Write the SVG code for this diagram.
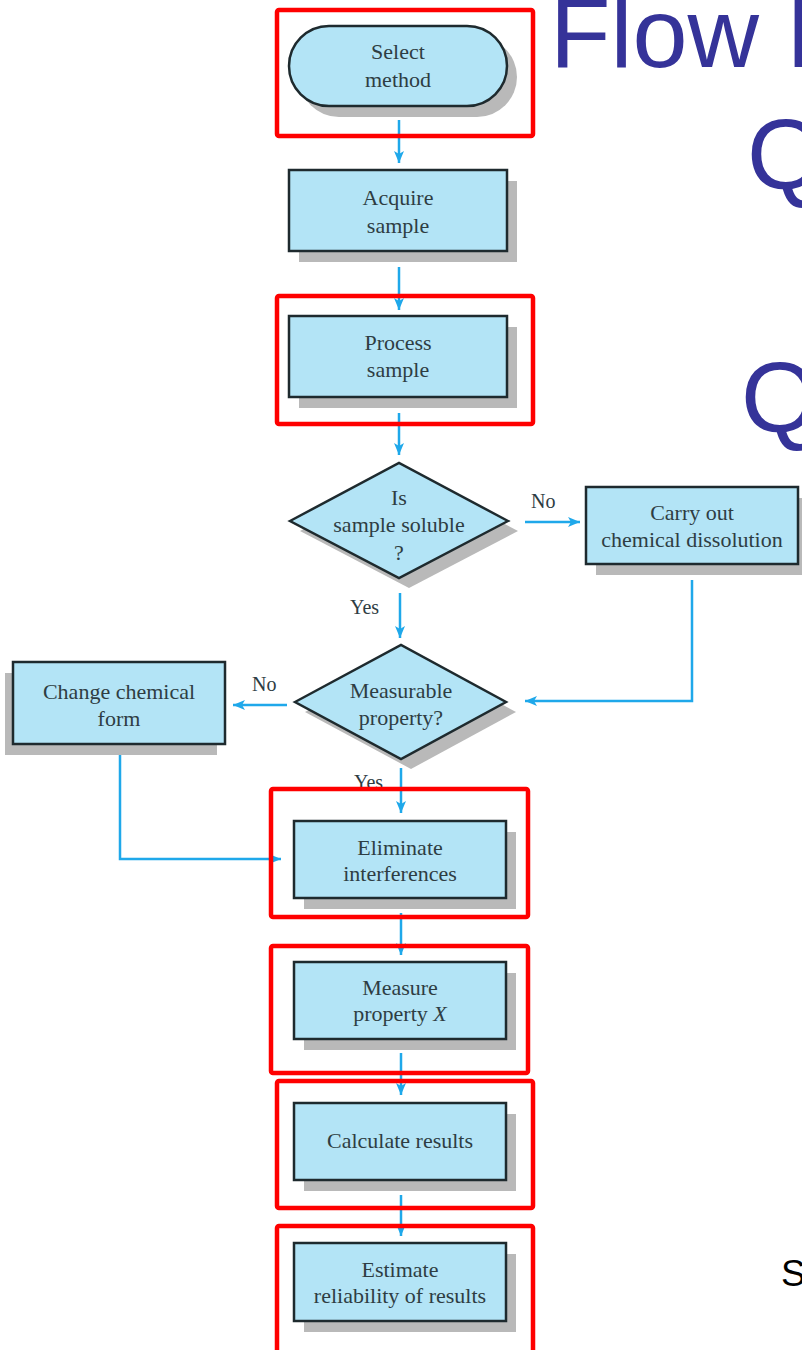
<svg xmlns="http://www.w3.org/2000/svg" width="802" height="1350" viewBox="0 0 802 1350">
<style>
.box{fill:#b3e4f6;stroke:#1e2a2e;stroke-width:2.5}
.shadow{fill:#b9b9b9;stroke:none}
.lbl{font-family:"Liberation Serif","Times New Roman",serif;font-size:22px;fill:#2e3d43;text-anchor:middle}
.yn{font-family:"Liberation Serif","Times New Roman",serif;font-size:20px;fill:#2e3d43}
.conn{fill:none;stroke:#1fa8ea;stroke-width:2.5}
.hl{fill:none;stroke:#ff0000;stroke-width:4.5}
.title{font-family:"Liberation Sans",Arial,sans-serif;fill:#353399}
</style>
<defs>
<marker id="arr" markerUnits="userSpaceOnUse" markerWidth="12" markerHeight="10" refX="12" refY="5" orient="auto">
<path d="M0,0 L12,5 L0,10 L3,5 z" fill="#1fa8ea"/>
</marker>
</defs>
<rect width="802" height="1350" fill="#ffffff"/>

<g id="title">
<text class="title" x="550" y="67" font-size="99">Flow D</text>
<text class="title" x="747" y="189" font-size="100">Q</text>
<text class="title" x="741" y="432" font-size="100">Q</text>
<text x="781" y="1286" font-family="Liberation Sans, Arial, sans-serif" font-size="37" fill="#000000">S</text>
</g>

<g id="connectors">
<line class="conn" x1="399" y1="120" x2="399" y2="163" marker-end="url(#arr)"/>
<line class="conn" x1="399" y1="267" x2="399" y2="310" marker-end="url(#arr)"/>
<line class="conn" x1="399" y1="413" x2="399" y2="455" marker-end="url(#arr)"/>
<line class="conn" x1="400" y1="593" x2="400" y2="638" marker-end="url(#arr)"/>
<line class="conn" x1="525" y1="522" x2="580" y2="522" marker-end="url(#arr)"/>
<polyline class="conn" points="692,580 692,701 525,701" marker-end="url(#arr)"/>
<line class="conn" x1="287" y1="705" x2="233" y2="705" marker-end="url(#arr)"/>
<polyline class="conn" points="120,753 120,859 281,859" marker-end="url(#arr)"/>
<line class="conn" x1="401" y1="768" x2="401" y2="813" marker-end="url(#arr)"/>
<line class="conn" x1="401" y1="913" x2="401" y2="955" marker-end="url(#arr)"/>
<line class="conn" x1="401" y1="1053" x2="401" y2="1095" marker-end="url(#arr)"/>
<line class="conn" x1="401" y1="1195" x2="401" y2="1236" marker-end="url(#arr)"/>
<text class="yn" x="531" y="508">No</text>
<text class="yn" x="350" y="614">Yes</text>
<text class="yn" x="252" y="691">No</text>
<text class="yn" x="354" y="789">Yes</text>
</g>

<g id="select-method">
<rect class="shadow" x="299" y="37" width="218" height="80" rx="40"/>
<rect class="box" x="289" y="26" width="218" height="80" rx="40"/>
<text class="lbl" x="398" y="59">Select</text>
<text class="lbl" x="398" y="87">method</text>
</g>

<g id="acquire-sample">
<rect class="shadow" x="299" y="181" width="218" height="81"/>
<rect class="box" x="289" y="170" width="218" height="81"/>
<text class="lbl" x="398" y="205">Acquire</text>
<text class="lbl" x="398" y="233">sample</text>
</g>

<g id="process-sample">
<rect class="shadow" x="299" y="327" width="218" height="81"/>
<rect class="box" x="289" y="316" width="218" height="81"/>
<text class="lbl" x="398" y="350">Process</text>
<text class="lbl" x="398" y="377">sample</text>
</g>

<g id="is-soluble">
<polygon class="shadow" points="300,531 409,473 518,531 409,588"/>
<polygon class="box" points="290,521 399,463 508,521 399,578"/>
<text class="lbl" x="399" y="505">Is</text>
<text class="lbl" x="399" y="532">sample soluble</text>
<text class="lbl" x="399" y="560">?</text>
</g>

<g id="carry-out">
<rect class="shadow" x="596" y="498" width="212" height="77"/>
<rect class="box" x="586" y="487" width="212" height="77"/>
<text class="lbl" x="692" y="520">Carry out</text>
<text class="lbl" x="692" y="547">chemical dissolution</text>
</g>

<g id="measurable">
<polygon class="shadow" points="305,712 411,655 516,712 411,769"/>
<polygon class="box" points="295,702 401,645 506,702 401,759"/>
<text class="lbl" x="401" y="698">Measurable</text>
<text class="lbl" x="401" y="725">property?</text>
</g>

<g id="change-form">
<rect class="shadow" x="5" y="673" width="212" height="82"/>
<rect class="box" x="13" y="662" width="212" height="82"/>
<text class="lbl" x="119" y="699">Change chemical</text>
<text class="lbl" x="119" y="726">form</text>
</g>

<g id="eliminate">
<rect class="shadow" x="304" y="832" width="212" height="77"/>
<rect class="box" x="294" y="821" width="212" height="77"/>
<text class="lbl" x="400" y="855">Eliminate</text>
<text class="lbl" x="400" y="881">interferences</text>
</g>

<g id="measure">
<rect class="shadow" x="304" y="973" width="212" height="77"/>
<rect class="box" x="294" y="962" width="212" height="77"/>
<text class="lbl" x="400" y="995">Measure</text>
<text class="lbl" x="400" y="1021">property <tspan font-style="italic">X</tspan></text>
</g>

<g id="calculate">
<rect class="shadow" x="304" y="1114" width="212" height="77"/>
<rect class="box" x="294" y="1103" width="212" height="77"/>
<text class="lbl" x="400" y="1148">Calculate results</text>
</g>

<g id="estimate">
<rect class="shadow" x="304" y="1254" width="212" height="78"/>
<rect class="box" x="294" y="1243" width="212" height="78"/>
<text class="lbl" x="400" y="1277">Estimate</text>
<text class="lbl" x="400" y="1303">reliability of results</text>
</g>

<g id="highlights">
<rect class="hl" x="277" y="10" width="256" height="126" rx="2"/>
<rect class="hl" x="277" y="296" width="256" height="128" rx="2"/>
<rect class="hl" x="271" y="789" width="257" height="128" rx="2"/>
<rect class="hl" x="271" y="946" width="257" height="127" rx="2"/>
<rect class="hl" x="277" y="1081" width="256" height="127" rx="2"/>
<rect class="hl" x="277" y="1226" width="256" height="130" rx="2"/>
</g>
</svg>
